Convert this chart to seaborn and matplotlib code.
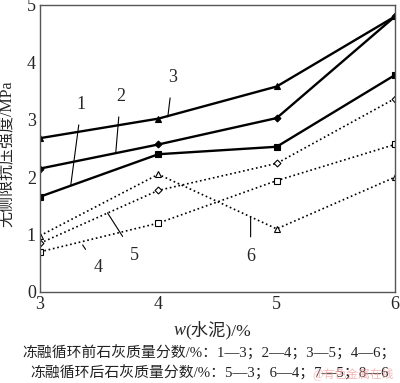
import matplotlib
matplotlib.use("Agg")
import matplotlib.pyplot as plt
import seaborn as sns
import pandas as pd

x_cement = [3, 4, 5, 6]
s1 = [1.66, 2.40, 2.53, 3.78]
s2 = [2.15, 2.57, 3.03, 4.80]
s3 = [2.68, 3.02, 3.58, 4.80]
s4 = [0.70, 1.20, 1.94, 2.57]
s5 = [0.85, 1.77, 2.24, 3.37]
s6 = [0.98, 2.05, 1.10, 2.00]
series_names = ["1", "2", "3", "4", "5", "6"]
x_ticks = [3, 4, 5, 6]
y_ticks = [0, 1, 2, 3, 4, 5]

sns.set_style("white")
plt.rcParams['font.family'] = ['Liberation Serif', 'Noto Sans CJK SC']

fig = plt.figure(figsize=(4.0, 3.83), dpi=100)
ax = fig.add_axes([0.1, 0.2376, 0.8875, 0.7494])

styles = {
    "1": dict(marker="s", ls="-", mfc="black", lw=1.7, ms=4.5),
    "2": dict(marker="D", ls="-", mfc="black", lw=1.7, ms=3.5),
    "3": dict(marker="^", ls="-", mfc="black", lw=1.7, ms=4.5),
    "4": dict(marker="s", ls=":", mfc="white", lw=1.2, ms=4.5),
    "5": dict(marker="D", ls=":", mfc="white", lw=1.2, ms=3.5),
    "6": dict(marker="^", ls=":", mfc="white", lw=1.2, ms=4.5),
}
for name, vals in zip(series_names, [s1, s2, s3, s4, s5, s6]):
    df = pd.DataFrame({"x": x_cement, "y": vals})
    st = styles[name]
    sns.lineplot(data=df, x="x", y="y", ax=ax, color="black",
                 marker=st["marker"], linestyle=st["ls"], lw=st["lw"],
                 markersize=st["ms"], markerfacecolor=st["mfc"],
                 markeredgecolor="black", markeredgewidth=0.8)

ax.set_xlim(3, 6)
ax.set_ylim(0, 5)
ax.set_xticks(x_ticks)
ax.set_yticks(y_ticks)
ax.tick_params(direction="in", length=3, width=0.8, labelsize=13, color="#444444", pad=3)
for sp in ax.spines.values():
    sp.set_color("#555555")
    sp.set_linewidth(1.0)

ax.set_xlabel("")
ax.set_ylabel("无侧限抗压强度/MPa", fontsize=11.5, labelpad=1)
ax.yaxis.set_label_coords(-0.068, 0.48)

labels = [
    ("1", (3.35, 3.26), (3.26, 1.86)),
    ("2", (3.68, 3.40), (3.64, 2.42)),
    ("3", (4.12, 3.73), (4.08, 3.05)),
    ("4", (3.49, 0.42), (3.36, 0.82)),
    ("5", (3.80, 0.64), (3.57, 1.38)),
    ("6", (4.78, 0.61), (4.78, 1.31)),
]
for t, txy, pxy in labels:
    ax.annotate(t, xy=pxy, xytext=txy, fontsize=13, ha="center", va="center",
                arrowprops=dict(arrowstyle="-", lw=0.8, color="black", shrinkA=6, shrinkB=0))

# x label: italic w followed by upright text
fig.canvas.draw()
renderer = fig.canvas.get_renderer()
t_w = fig.text(0.0, 0.138, "w", fontsize=13, style="italic", ha="left", va="center")
t_r = fig.text(0.0, 0.138, "(水泥)/%", fontsize=12.5, ha="left", va="center")
bw = t_w.get_window_extent(renderer)
br = t_r.get_window_extent(renderer)
total = bw.width + br.width
x0 = 212 - total / 2
t_w.set_x(x0 / 400)
t_r.set_x((x0 + bw.width + 0.5) / 400)

fig.text(0.057, 0.078, "冻融循环前石灰质量分数/%：1—3；2—4；3—5；4—6；",
         fontsize=10.7, ha="left", va="center", color="#222222")
fig.text(0.075, 0.026, "冻融循环后石灰质量分数/%：5—3；6—4；7—5；8—6",
         fontsize=10.7, ha="left", va="center", color="#222222")
fig.text(0.985, 0.022, "@有色金属在线", fontsize=8.5, ha="right", va="center",
         color="#f0a0a0", alpha=0.75)

fig.savefig("out.png", dpi=100)
